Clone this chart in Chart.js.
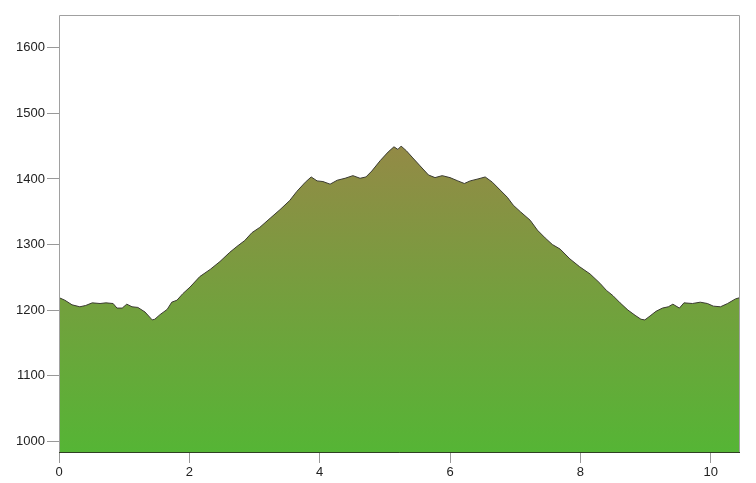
<!DOCTYPE html>
<html>
<head>
<meta charset="utf-8">
<script src="https://cdn.jsdelivr.net/npm/chart.js@4"></script>
<style>
  html, body { margin: 0; padding: 0; background: #fff; }
  #wrap { width: 756px; height: 483px; }
</style>
</head>
<body>
<div id="wrap"><canvas id="profile"></canvas></div>
<script>
// --- Profile data (distance in km, elevation in m) ---
const distances = [
  0, 0.09, 0.2, 0.32, 0.41, 0.51, 0.63, 0.72, 0.83, 0.89, 0.97, 1.04, 1.12, 1.21, 1.32, 1.43, 1.47,
  1.55, 1.66, 1.73, 1.81, 1.9, 2.01, 2.16, 2.32, 2.47, 2.62, 2.73, 2.85, 2.96, 3.08, 3.24, 3.39,
  3.54, 3.65, 3.78, 3.87, 3.96, 4.05, 4.16, 4.27, 4.39, 4.51, 4.62, 4.71, 4.8, 4.93, 5.05, 5.14,
  5.2, 5.25, 5.33, 5.43, 5.54, 5.67, 5.77, 5.88, 6.0, 6.12, 6.22, 6.31, 6.43, 6.54, 6.65, 6.77,
  6.88, 6.97, 7.08, 7.23, 7.34, 7.46, 7.57, 7.69, 7.84, 7.99, 8.15, 8.3, 8.4, 8.5, 8.61, 8.73,
  8.84, 8.93, 8.99, 9.07, 9.16, 9.26, 9.35, 9.42, 9.52, 9.59, 9.72, 9.84, 9.95, 10.04, 10.15,
  10.26, 10.38, 10.45
];
const elevations = [
  1219, 1215, 1208, 1205, 1207, 1211, 1210, 1211, 1210, 1203, 1203, 1209, 1205, 1204, 1197, 1185, 1186,
  1193, 1201, 1212, 1215, 1225, 1235, 1251, 1262, 1274, 1288, 1297, 1306, 1318, 1326, 1340, 1353,
  1367, 1381, 1395, 1403, 1397, 1396, 1392, 1398, 1401, 1405, 1401, 1403, 1412, 1428, 1441, 1449,
  1445, 1450, 1443, 1432, 1420, 1406, 1402, 1405, 1402, 1397, 1393, 1397, 1400, 1403, 1395, 1383,
  1372, 1360, 1350, 1337, 1322, 1310, 1300, 1293, 1278, 1266, 1255, 1241, 1230, 1222, 1211, 1200,
  1192, 1186, 1185, 1191, 1198, 1203, 1205, 1209, 1203, 1211, 1210, 1212, 1210, 1206, 1205,
  1210, 1217, 1219
];
const xTicks = [0, 2, 4, 6, 8, 10];
const yTicks = [1000, 1100, 1200, 1300, 1400, 1500, 1600];

const points = distances.map((d, i) => ({ x: d, y: elevations[i] }));

// --- Gradient fill: olive at the summit, green at the base ---
function fillGradient(context) {
  const chart = context.chart;
  const area = chart.chartArea;
  if (!area) return "#72a23b";
  const top = chart.scales.y.getPixelForValue(Math.max(...elevations));
  const g = chart.ctx.createLinearGradient(0, top, 0, area.bottom);
  g.addColorStop(0, "#938a46");
  g.addColorStop(1, "#55b535");
  return g;
}

// gray frame round the plot
const frame = {
  id: "frame",
  afterDatasetsDraw(chart) {
    const { ctx, chartArea: a } = chart;
    ctx.save();
    ctx.strokeStyle = "#a0a0a0";
    ctx.lineWidth = 1;
    ctx.beginPath();
    ctx.moveTo(a.left + 0.5, a.bottom);
    ctx.lineTo(a.left + 0.5, a.top + 0.5);
    ctx.lineTo(a.right - 0.5, a.top + 0.5);
    ctx.lineTo(a.right - 0.5, a.bottom);
    ctx.stroke();
    ctx.strokeStyle = "#2f3f22";
    ctx.beginPath();
    ctx.moveTo(a.left, a.bottom - 0.5);
    ctx.lineTo(a.right, a.bottom - 0.5);
    ctx.stroke();
    ctx.restore();
  }
};

const tickFont = { family: "'Liberation Sans', Arial, sans-serif", size: 13 };

new Chart(document.getElementById("profile"), {
  type: "line",
  data: {
    datasets: [{
      data: points,
      borderColor: "#3a3a30",
      borderWidth: 1,
      backgroundColor: fillGradient,
      fill: "start",
      pointRadius: 0,
      tension: 0
    }]
  },
  options: {
    responsive: true,
    maintainAspectRatio: false,
    animation: false,
    layout: { padding: { top: 15, right: 16, left: 0, bottom: 0 } },
    plugins: { legend: { display: false }, tooltip: { enabled: false } },
    scales: {
      x: {
        type: "linear",
        min: 0,
        max: 10.45,
        afterFit: s => { s.height = 30; },
        afterBuildTicks: s => { s.ticks = xTicks.map(v => ({ value: v })); },
        border: { display: false },
        grid: { drawOnChartArea: false, color: "#999", tickLength: 10 },
        ticks: { color: "#222", font: tickFont, padding: 2, maxRotation: 0, callback: v => String(v) }
      },
      y: {
        min: 982,
        max: 1650,
        afterFit: s => { s.width = 59; },
        afterBuildTicks: s => { s.ticks = yTicks.map(v => ({ value: v })); },
        border: { display: false },
        grid: { drawOnChartArea: false, color: "#999", tickLength: 12 },
        ticks: { color: "#222", font: tickFont, padding: 2, callback: v => String(v) }
      }
    }
  },
  plugins: [frame]
});
</script>
</body>
</html>
